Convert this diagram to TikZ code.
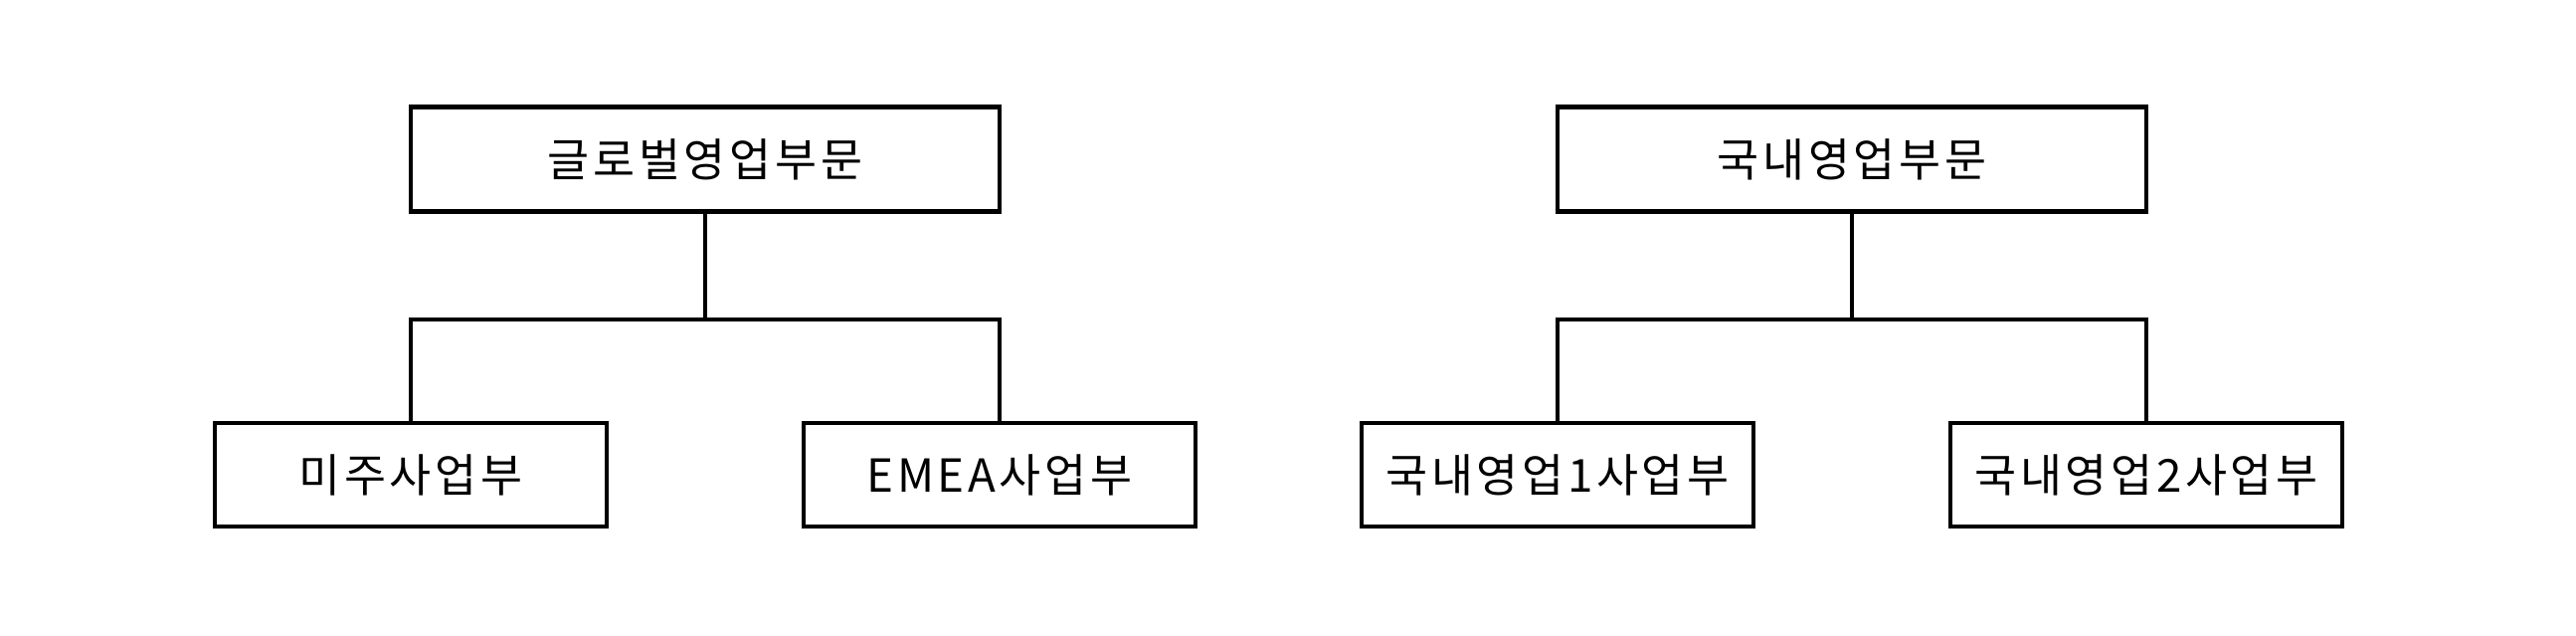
\documentclass[tikz,border=0pt]{standalone}
\usepackage{fontspec}
\setmainfont[LetterSpace=8]{Noto Sans CJK KR}
\usepackage{tikz}
\usetikzlibrary{shapes,arrows}
\tikzstyle{division} = [rectangle, draw, line width=1.15pt,
    minimum width=5.92cm, minimum height=1.05cm, inner sep=0pt,
    text centered, font=\fontsize{13}{15}\selectfont]
\tikzstyle{unit} = [division, minimum width=3.94cm, minimum height=1.04cm]
\tikzset{
  mylink/.style={-, line width=1.15pt, line join=miter},
	}

\begin{document}
\begin{tikzpicture}[align=center, node distance = 3.17cm, auto]
    \useasboundingbox (0,0) rectangle (25.9,6.39);
    % global sales
    \node[division] (global) at (7.09,4.79) {글로벌영업부문};
    \node[unit, below of=global, xshift=-2.96cm](americas){미주사업부};
    \draw[mylink](global.south)--++(0,-1.065)-|(americas.north);
    \node[unit, below of=global, xshift=2.96cm](emea){EMEA사업부};
    \draw[mylink](global.south)--++(0,-1.065)-|(emea.north);
    % domestic sales
    \node[division] (domestic) at (18.62,4.79) {국내영업부문};
    \node[unit, below of=domestic, xshift=-2.96cm](dom1){국내영업1사업부};
    \draw[mylink](domestic.south)--++(0,-1.065)-|(dom1.north);
    \node[unit, below of=domestic, xshift=2.96cm](dom2){국내영업2사업부};
    \draw[mylink](domestic.south)--++(0,-1.065)-|(dom2.north);
\end{tikzpicture}
\end{document}
